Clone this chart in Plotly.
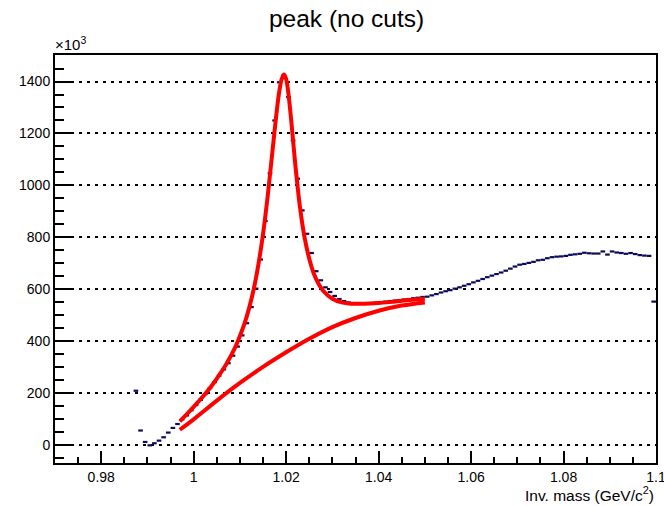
import numpy as np
import plotly.graph_objects as go

# Histogram: K+K- invariant mass, bin width 0.001 GeV/c^2, counts in units of 10^3
bin_width = 0.001
first_bin_low = 0.987
counts = [
    210, 57, 13, 0, 8, 18, 31, 49, 67, 82,
    100, 115, 135, 155, 175, 197, 220, 243, 268, 292,
    316, 345, 380, 423, 470, 532, 603, 715, 863, 1047,
    1250, 1397, 1425, 1340, 1173, 1026, 904, 814, 740, 670,
    635, 608, 590, 575, 563, 555, 550, 547, 545, 545,
    546, 547, 549, 551, 553, 555, 557, 559, 561, 563,
    566, 568, 571,
    572, 577, 582, 588, 593, 597, 603, 608, 614, 620,
    627, 633, 640, 647, 653, 659, 665, 672, 680, 688,
    695, 698, 702, 706, 712, 714, 720, 724, 726, 727,
    729, 733, 735, 737, 741, 739, 738, 738, 746, 734,
    746, 742, 740, 737, 740, 736, 732, 730, 729, 553,
]
bin_centers = first_bin_low + bin_width * (np.arange(len(counts)) + 0.5)

# Fit result (signal + background), sampled over the fit range
fit_x = [0.997, 1.000, 1.003, 1.005, 1.007, 1.009, 1.010, 1.011, 1.012, 1.013,
         1.014, 1.015, 1.016, 1.017, 1.018, 1.0185, 1.019, 1.0195, 1.020, 1.0205,
         1.021, 1.0215, 1.022, 1.023, 1.024, 1.025, 1.026, 1.027, 1.028, 1.030,
         1.032, 1.034, 1.036, 1.038, 1.040, 1.043, 1.046, 1.050]
fit_total = [92, 148, 209, 257, 311, 378, 421, 469, 529, 602,
             696, 813, 958, 1126, 1292, 1360, 1407, 1427, 1410, 1352,
             1268, 1172, 1077, 915, 798, 718, 660, 622, 595, 564,
             550, 545, 545, 546, 548, 552, 558, 564]

# Background component of the fit
bkg_x = [0.997, 1.000, 1.005, 1.010, 1.015, 1.020, 1.025, 1.030, 1.035, 1.040, 1.045, 1.050]
bkg_vals = [60, 100, 172, 240, 302, 358, 410, 455, 490, 518, 538, 550]

x_ticks = [0.98, 1.0, 1.02, 1.04, 1.06, 1.08, 1.1]
x_tick_text = ["0.98", "1", "1.02", "1.04", "1.06", "1.08", "1.1"]
y_ticks = [0, 200, 400, 600, 800, 1000, 1200, 1400]

FONT = "Liberation Sans, Arial, Helvetica, sans-serif"
HIST_COLOR = "#0b0b5c"
FIT_COLOR = "#ff0000"

fig = go.Figure()

fig.add_trace(go.Scatter(
    x=bin_centers, y=counts, mode="markers",
    marker=dict(size=1, color=HIST_COLOR, opacity=0),
    error_x=dict(type="constant", value=bin_width / 2, width=0,
                 thickness=2.2, color=HIST_COLOR),
    showlegend=False, hoverinfo="x+y",
))

fig.add_trace(go.Scatter(
    x=bkg_x, y=bkg_vals, mode="lines",
    line=dict(color=FIT_COLOR, width=4, shape="spline", smoothing=1.0),
    showlegend=False,
))

fig.add_trace(go.Scatter(
    x=fit_x, y=fit_total, mode="lines",
    line=dict(color=FIT_COLOR, width=4, shape="spline", smoothing=0.7),
    showlegend=False,
))

fig.update_layout(
    width=664, height=506,
    margin=dict(l=55, r=8, t=55, b=43),
    paper_bgcolor="white", plot_bgcolor="white",
    font=dict(family=FONT, size=14, color="black"),
    title=dict(text="peak (no cuts)", x=0.522, xanchor="center",
               y=1 - 18 / 506, yanchor="middle",
               font=dict(family=FONT, size=24.5, color="black")),
    showlegend=False,
)

fig.update_xaxes(
    range=[0.97, 1.1], automargin=False, ticklabeloverflow="allow",
    tickvals=x_ticks, ticktext=x_tick_text,
    ticks="inside", ticklen=12, tickwidth=1.5, tickcolor="black",
    minor=dict(dtick=0.005, tick0=0.97, ticks="inside", ticklen=6,
               tickwidth=1.5, tickcolor="black", showgrid=False),
    showline=True, linecolor="black", linewidth=2, mirror=True,
    showgrid=False, zeroline=False,
    tickfont=dict(family=FONT, size=14),
)

fig.update_yaxes(
    range=[-68, 1502], automargin=False,
    tickvals=y_ticks,
    ticks="inside", ticklen=18, tickwidth=1.5, tickcolor="black",
    minor=dict(dtick=50, tick0=0, ticks="inside", ticklen=9,
               tickwidth=1.5, tickcolor="black", showgrid=False),
    showline=True, linecolor="black", linewidth=2, mirror=True,
    showgrid=True, gridcolor="black", gridwidth=2, griddash="3px,5px",
    zeroline=False,
    tickfont=dict(family=FONT, size=14),
)

fig.add_annotation(
    text="Inv. mass (GeV/c<sup>2</sup>)", xref="paper", yref="paper",
    x=1.0, y=-0.076, xanchor="right", yanchor="middle", showarrow=False,
    font=dict(family=FONT, size=15.5, color="black"),
)
fig.add_annotation(
    text="×10<sup>3</sup>", xref="paper", yref="paper",
    x=-0.003, y=1.0, xanchor="left", yanchor="bottom", showarrow=False,
    font=dict(family=FONT, size=15, color="black"),
)

fig.write_html("out.html")
